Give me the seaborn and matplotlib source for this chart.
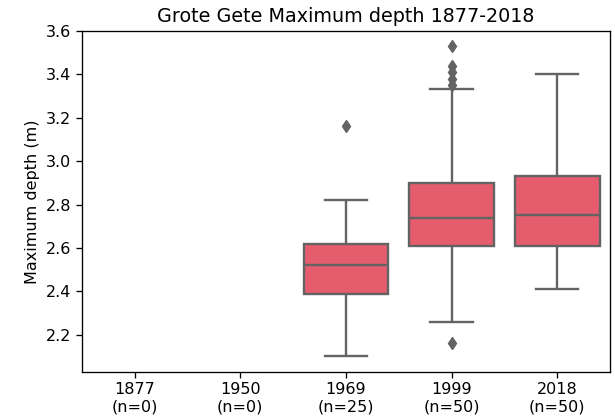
import matplotlib
matplotlib.use("Agg")
import matplotlib.pyplot as plt
import pandas as pd
import seaborn as sns

years = ["1877", "1950", "1969", "1999", "2018"]

depth_1969 = [2.10, 2.18, 2.24, 2.29, 2.33, 2.36, 2.39, 2.42, 2.45, 2.47,
              2.49, 2.51, 2.52, 2.54, 2.56, 2.58, 2.60, 2.61, 2.62, 2.65,
              2.69, 2.73, 2.77, 2.82, 3.16]

depth_1999 = [2.16, 2.26, 2.33, 2.38, 2.42, 2.45, 2.48, 2.50, 2.53, 2.55,
              2.57, 2.59, 2.61, 2.61, 2.62, 2.64, 2.65, 2.66, 2.67, 2.69,
              2.70, 2.71, 2.72, 2.73, 2.74, 2.74, 2.76, 2.77, 2.79, 2.80,
              2.82, 2.83, 2.85, 2.86, 2.88, 2.89, 2.90, 2.90, 2.93, 2.97,
              3.02, 3.08, 3.15, 3.24, 3.33, 3.35, 3.38, 3.41, 3.44, 3.53]

depth_2018 = [2.41, 2.45, 2.48, 2.50, 2.52, 2.54, 2.55, 2.56, 2.57, 2.58,
              2.59, 2.60, 2.61, 2.61, 2.63, 2.64, 2.66, 2.67, 2.68, 2.69,
              2.71, 2.72, 2.73, 2.74, 2.75, 2.75, 2.77, 2.79, 2.80, 2.82,
              2.84, 2.86, 2.87, 2.89, 2.90, 2.92, 2.93, 2.93, 2.96, 2.99,
              3.02, 3.06, 3.10, 3.14, 3.18, 3.22, 3.26, 3.30, 3.35, 3.40]

samples = {"1877": [], "1950": [], "1969": depth_1969,
           "1999": depth_1999, "2018": depth_2018}

df = pd.DataFrame(
    [(y, v) for y in years for v in samples[y]],
    columns=["year", "depth"],
)

fig = plt.figure(figsize=(6.15, 4.18), dpi=100)
ax = fig.add_axes([0.133, 0.110, 0.859, 0.817])

gray = "#636363"
sns.boxplot(
    data=df, x="year", y="depth", order=years, ax=ax,
    color="#e55c6d", saturation=1, width=0.8,
    linecolor=gray, linewidth=1.7,
    flierprops=dict(marker="d", markerfacecolor=gray,
                    markeredgecolor=gray, markersize=6.5),
)

ax.set_xlim(-0.5, 4.5)
ax.set_ylim(2.0285, 3.6015)
ax.set_yticks([2.2, 2.4, 2.6, 2.8, 3.0, 3.2, 3.4, 3.6])
ax.set_xticks(range(len(years)))
ax.set_xticklabels([f"{y}\n(n={len(samples[y])})" for y in years])
ax.set_xlabel("")
ax.set_ylabel("Maximum depth (m)", fontsize=11.5)
ax.set_title("Grote Gete Maximum depth 1877-2018", fontsize=13.8)
ax.tick_params(labelsize=11.5, length=4, width=0.95)
for spine in ax.spines.values():
    spine.set_linewidth(0.95)

fig.savefig("out.png", dpi=100)
